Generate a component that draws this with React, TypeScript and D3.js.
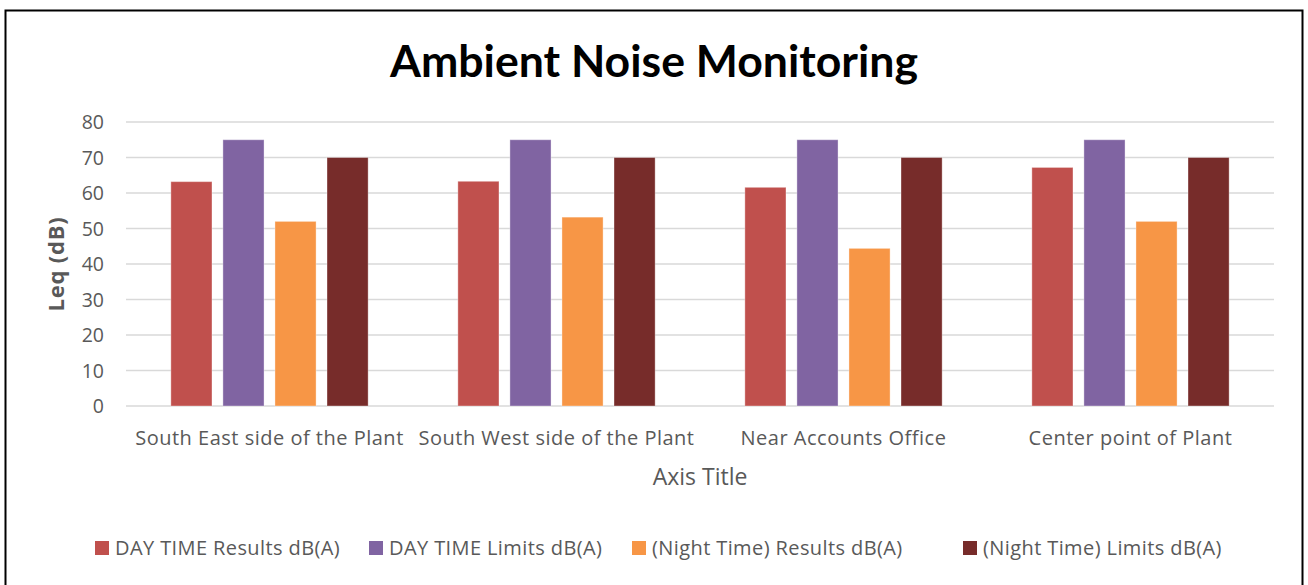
import React from "react";
import * as d3 from "d3";

const categories = [
  "South East side of the Plant",
  "South West side of the Plant",
  "Near Accounts Office",
  "Center point of Plant",
];
const seriesNames = [
  "DAY TIME Results dB(A)",
  "DAY TIME Limits dB(A)",
  "(Night Time) Results dB(A)",
  "(Night Time) Limits dB(A)",
];
const dayResults = [63.2, 63.3, 61.6, 67.2];
const dayLimits = [75, 75, 75, 75];
const nightResults = [52.0, 53.2, 44.4, 52.0];
const nightLimits = [70, 70, 70, 70];
const yTicks = [0, 10, 20, 30, 40, 50, 60, 70, 80];
const colors = ["#c0504d", "#8064a2", "#f79646", "#772c2a"];

const W = 1308;
const H = 585;
const FONT = "'Open Sans', Lato, sans-serif";
const TITLE_FONT = "Lato, 'Open Sans', sans-serif";

export default function App() {
  const series = [dayResults, dayLimits, nightResults, nightLimits];
  const x0 = d3.scaleBand<string>().domain(categories).range([126, 1274]).padding(0);
  const x1 = d3
    .scaleBand<number>()
    .domain(d3.range(series.length))
    .range([0, x0.bandwidth()])
    .paddingInner(0.21)
    .paddingOuter(0.862);
  const y = d3.scaleLinear().domain([0, 80]).range([406, 122]);

  const legendX = [95, 369, 632, 963];

  return (
    <svg
      width={W}
      height={H}
      style={{ position: "fixed", left: 0, top: 0, background: "#fff" }}
      fontFamily={FONT}
    >
      <rect x={0} y={0} width={W} height={H} fill="#fff" />
      <rect x={5.5} y={10.5} width={1297} height={590} fill="none" stroke="#000" strokeWidth={2} />
      <text x={654} y={77} textAnchor="middle" fontFamily={TITLE_FONT} fontSize={44} fontWeight="bold" fill="#000" textLength={528} lengthAdjust="spacingAndGlyphs">
        Ambient Noise Monitoring
      </text>
      {yTicks.map((t) => (
        <g key={t}>
          <line x1={126} x2={1274} y1={y(t)} y2={y(t)} stroke="#d9d9d9" strokeWidth={1.5} />
          <text x={104} y={y(t)} dy="0.36em" textAnchor="end" fontSize={19.5} fill="#595959">
            {t}
          </text>
        </g>
      ))}
      {categories.map((c, ci) => (
        <g key={c} transform={`translate(${x0(c)},0)`}>
          {series.map((s, si) => (
            <rect
              key={si}
              x={x1(si)}
              y={y(s[ci])}
              width={x1.bandwidth()}
              height={y(0) - y(s[ci])}
              fill={colors[si]}
              stroke="#fff"
              strokeOpacity={0.35}
              strokeWidth={1}
            />
          ))}
        </g>
      ))}
      {categories.map((c) => (
        <text key={c} x={(x0(c) as number) + x0.bandwidth() / 2} y={445} textAnchor="middle" fontSize={20} letterSpacing={0.5} fill="#595959">
          {c}
        </text>
      ))}
      <text x={700} y={485} textAnchor="middle" fontSize={23} fill="#595959">
        Axis Title
      </text>
      <text
        transform={`translate(64,${(y(0) + y(80)) / 2}) rotate(-90)`}
        textAnchor="middle"
        fontSize={22}
        fontWeight="bold"
        letterSpacing={0.8}
        fill="#595959"
      >
        Leq (dB)
      </text>
      {seriesNames.map((n, i) => (
        <g key={n} transform={`translate(${legendX[i]},541)`}>
          <rect x={0} y={0} width={14} height={14} fill={colors[i]} />
          <text x={20} y={14} fontSize={20} letterSpacing={0.4} fill="#595959">
            {n}
          </text>
        </g>
      ))}
    </svg>
  );
}
